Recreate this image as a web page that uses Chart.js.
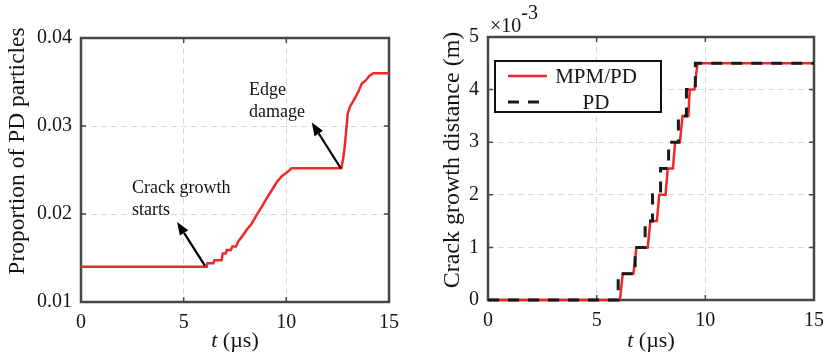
<!DOCTYPE html>
<html>
<head>
<meta charset="utf-8">
<script src="https://cdn.jsdelivr.net/npm/chart.js@4.4.1/dist/chart.umd.min.js"></script>
<style>
    html, body { margin: 0; padding: 0; background: #fff; }
    #wrap { position: relative; width: 833px; height: 358px; }
    canvas { position: absolute; top: 0; }
    #left-chart { left: 0; }
    #right-chart { left: 420px; }
</style>
</head>
<body>
<div id="wrap">
    <canvas id="left-chart" width="420" height="358"></canvas>
    <canvas id="right-chart" width="413" height="358"></canvas>
</div>
<script>
// --- DATA ---
// left: proportion of PD particles vs time (us)
const propT = [0, 6.12, 6.15, 6.45, 6.5, 6.85, 6.9, 7.05, 7.1, 7.3, 7.37, 7.55, 7.66, 7.83, 8.07, 8.31, 8.56, 8.8, 9.05, 9.29, 9.53, 9.78, 10.02, 10.26, 12.68, 12.78, 12.86, 12.99, 13.1, 13.3, 13.51, 13.67, 13.88, 14.04, 14.24, 15];
const propV = [0.0140, 0.0140, 0.0144, 0.0144, 0.01475, 0.01475, 0.0155, 0.0155, 0.0159, 0.0159, 0.0163, 0.0163, 0.0169, 0.0174, 0.0182, 0.0189, 0.0199, 0.0208, 0.0218, 0.0227, 0.0236, 0.0243, 0.0247, 0.0252, 0.0252, 0.0265, 0.0280, 0.0314, 0.0322, 0.0330, 0.0339, 0.0348, 0.0352, 0.0357, 0.0360, 0.0360];

// right: crack growth distance (x1e-3 m) vs time (us)
const mpmT = [0, 6.07, 6.20, 6.69, 6.83, 7.35, 7.47, 7.77, 7.88, 8.17, 8.27, 8.51, 8.61, 8.83, 8.95, 9.22, 9.28, 9.50, 9.64, 15];
const mpmV = [0, 0, 0.5, 0.5, 1.0, 1.0, 1.5, 1.5, 2.0, 2.0, 2.5, 2.5, 3.0, 3.0, 3.5, 3.5, 4.0, 4.0, 4.5, 4.5];
const pdT = [0, 5.99, 6.77, 7.23, 7.57, 7.94, 8.31, 8.76, 9.13, 9.54, 15];
const pdV = [0, 0.5, 1.0, 1.5, 2.0, 2.5, 3.0, 3.5, 4.0, 4.5, 4.5];

const seriesNames = ['MPM/PD', 'PD'];
const xTickLabels = ['0', '5', '10', '15'];
const propTickLabels = ['0.01', '0.02', '0.03', '0.04'];
const crackTickLabels = ['0', '1', '2', '3', '4', '5'];

// --- STYLE ---
const SERIF = "'Liberation Serif', 'Times New Roman', serif";
const TEXT = '#141414';
const FRAME = '#474747';
const GRID = '#d8d8d8';
const RED = '#f02828';

Chart.defaults.font.family = SERIF;
Chart.defaults.color = TEXT;

function toPoints(xs, ys) {
    return xs.map((x, i) => ({ x: x, y: ys[i] }));
}

function makeScales(yMin, yMax, yStep, yLabels, yWidth, xHeight) {
    return {
        x: {
            type: 'linear', min: 0, max: 15,
            afterFit: s => { s.height = xHeight; },
            ticks: { stepSize: 5, padding: 9, color: TEXT, font: { family: SERIF, size: 20 },
                callback: (v, i) => xTickLabels[i] },
            grid: { color: GRID, lineWidth: 1, drawTicks: false },
            border: { display: false, dash: [6, 4] }
        },
        y: {
            min: yMin, max: yMax,
            afterFit: s => { s.width = yWidth; },
            ticks: { stepSize: yStep, padding: 9, color: TEXT, font: { family: SERIF, size: 20 },
                callback: (v, i) => yLabels[i] },
            grid: { color: GRID, lineWidth: 1, drawTicks: false },
            border: { display: false, dash: [6, 4] }
        }
    };
}

// frame box with inward tick marks
const framePlugin = {
    id: 'frame',
    beforeDatasetsDraw(chart) {
        const { ctx, chartArea: a, scales } = chart;
        ctx.save();
        ctx.strokeStyle = FRAME;
        ctx.lineWidth = 1.5;
        ctx.beginPath();
        scales.x.ticks.forEach(t => {
            const px = scales.x.getPixelForValue(t.value);
            ctx.moveTo(px, a.bottom); ctx.lineTo(px, a.bottom - 5);
            ctx.moveTo(px, a.top); ctx.lineTo(px, a.top + 5);
        });
        scales.y.ticks.forEach(t => {
            const py = scales.y.getPixelForValue(t.value);
            ctx.moveTo(a.left, py); ctx.lineTo(a.left + 5, py);
            ctx.moveTo(a.right, py); ctx.lineTo(a.right - 5, py);
        });
        ctx.stroke();
        ctx.lineWidth = 2.5;
        ctx.strokeRect(a.left, a.top, a.right - a.left, a.bottom - a.top);
        ctx.restore();
    }
};

// axis titles: italic t for the x axis, rotated y title
function titlesPlugin(yTitle, yCenterX, yCenterY, ySize) {
    return {
        id: 'titles',
        afterDraw(chart) {
            const { ctx, chartArea: a } = chart;
            ctx.save();
            ctx.fillStyle = TEXT;
            ctx.textBaseline = 'alphabetic';
            ctx.textAlign = 'left';
            const italic = `italic 22px ${SERIF}`;
            const normal = `22px ${SERIF}`;
            ctx.font = italic;
            const w1 = ctx.measureText('t').width;
            ctx.font = normal;
            const w2 = ctx.measureText(' (\u00b5s)').width;
            let x0 = (a.left + a.right) / 2 - (w1 + w2) / 2;
            ctx.font = italic;
            ctx.fillText('t', x0, 347);
            ctx.font = normal;
            ctx.fillText(' (\u00b5s)', x0 + w1, 347);

            ctx.translate(yCenterX, yCenterY);
            ctx.rotate(-Math.PI / 2);
            ctx.textAlign = 'center';
            ctx.textBaseline = 'middle';
            ctx.font = `${ySize}px ${SERIF}`;
            ctx.fillText(yTitle, 0, 0);
            ctx.restore();
        }
    };
}

function drawArrow(ctx, x1, y1, x2, y2) {
    const ang = Math.atan2(y2 - y1, x2 - x1);
    const len = 13, half = 5;
    const bx = x2 - len * Math.cos(ang), by = y2 - len * Math.sin(ang);
    ctx.beginPath();
    ctx.moveTo(x1, y1);
    ctx.lineTo(bx, by);
    ctx.stroke();
    ctx.beginPath();
    ctx.moveTo(x2, y2);
    ctx.lineTo(bx + half * Math.sin(ang), by - half * Math.cos(ang));
    ctx.lineTo(bx - half * Math.sin(ang), by + half * Math.cos(ang));
    ctx.closePath();
    ctx.fill();
}

// arrows and notes on the left chart, in data coordinates
const notesPlugin = {
    id: 'notes',
    afterDatasetsDraw(chart) {
        const { ctx, scales: { x, y } } = chart;
        ctx.save();
        ctx.strokeStyle = '#000';
        ctx.fillStyle = '#000';
        ctx.lineWidth = 2.2;
        drawArrow(ctx, x.getPixelForValue(6.04), y.getPixelForValue(0.0141), x.getPixelForValue(4.68), y.getPixelForValue(0.0191));
        drawArrow(ctx, x.getPixelForValue(12.65), y.getPixelForValue(0.0252), x.getPixelForValue(11.24), y.getPixelForValue(0.0304));
        ctx.fillStyle = TEXT;
        ctx.font = `18px ${SERIF}`;
        ctx.textAlign = 'left';
        ctx.textBaseline = 'alphabetic';
        ctx.fillText('Crack growth', x.getPixelForValue(2.48), y.getPixelForValue(0.02235));
        ctx.fillText('starts', x.getPixelForValue(2.48), y.getPixelForValue(0.01989));
        ctx.fillText('Edge', x.getPixelForValue(8.18), y.getPixelForValue(0.03352));
        ctx.fillText('damage', x.getPixelForValue(8.18), y.getPixelForValue(0.03106));
        ctx.restore();
    }
};

// boxed legend inside the right plot, plus the x10^-3 exponent label
const legendPlugin = {
    id: 'boxLegend',
    afterDraw(chart) {
        const { ctx, chartArea: a } = chart;
        ctx.save();
        ctx.fillStyle = '#fff';
        ctx.fillRect(a.left + 7, a.top + 24, 166, 51);
        ctx.strokeStyle = '#111';
        ctx.lineWidth = 2;
        ctx.strokeRect(a.left + 7, a.top + 24, 166, 51);

        const rows = [a.top + 39, a.top + 65];
        chart.data.datasets.forEach((ds, i) => {
            ctx.strokeStyle = ds.borderColor;
            ctx.lineWidth = ds.borderWidth;
            ctx.setLineDash(ds.borderDash || []);
            ctx.beginPath();
            ctx.moveTo(a.left + 20, rows[i]);
            ctx.lineTo(a.left + 59, rows[i]);
            ctx.stroke();
            ctx.setLineDash([]);
            ctx.fillStyle = TEXT;
            ctx.font = `21px ${SERIF}`;
            ctx.textAlign = 'center';
            ctx.textBaseline = 'middle';
            ctx.fillText(ds.label, a.left + 108, rows[i] + 1);
        });

        ctx.fillStyle = TEXT;
        ctx.textAlign = 'left';
        ctx.textBaseline = 'alphabetic';
        ctx.font = `20px ${SERIF}`;
        ctx.fillText('\u00d710', a.left + 2, a.top - 5);
        const w = ctx.measureText('\u00d710').width;
        ctx.fillText('-3', a.left + 2 + w, a.top - 18);
        ctx.restore();
    }
};

const commonOptions = {
    responsive: false,
    animation: false,
    events: [],
    plugins: { legend: { display: false }, tooltip: { enabled: false } },
    elements: { point: { radius: 0 } }
};

new Chart(document.getElementById('left-chart'), {
    type: 'line',
    data: {
        datasets: [{
            label: 'Proportion of PD particles',
            data: toPoints(propT, propV),
            borderColor: RED,
            borderWidth: 2.5,
            tension: 0,
            clip: 4
        }]
    },
    options: Object.assign({}, commonOptions, {
        layout: { padding: { top: 38, right: 31, left: 0, bottom: 0 } },
        scales: makeScales(0.01, 0.04, 0.01, propTickLabels, 81, 56)
    }),
    plugins: [framePlugin, notesPlugin, titlesPlugin('Proportion of PD particles', 18, 151, 23.5)]
});

new Chart(document.getElementById('right-chart'), {
    type: 'line',
    data: {
        datasets: [{
            label: seriesNames[0],
            data: toPoints(mpmT, mpmV),
            borderColor: RED,
            borderWidth: 2.5,
            tension: 0,
            order: 1,
            clip: 4
        }, {
            label: seriesNames[1],
            data: toPoints(pdT, pdV),
            borderColor: '#1a1a1a',
            borderWidth: 3,
            borderDash: [11, 9],
            stepped: true,
            order: 0,
            clip: 4
        }]
    },
    options: Object.assign({}, commonOptions, {
        layout: { padding: { top: 37, right: 7, left: 0, bottom: 0 } },
        scales: makeScales(0, 5, 1, crackTickLabels, 68, 58)
    }),
    plugins: [framePlugin, legendPlugin, titlesPlugin('Crack growth distance (m)', 33, 160, 24)]
});
</script>
</body>
</html>
